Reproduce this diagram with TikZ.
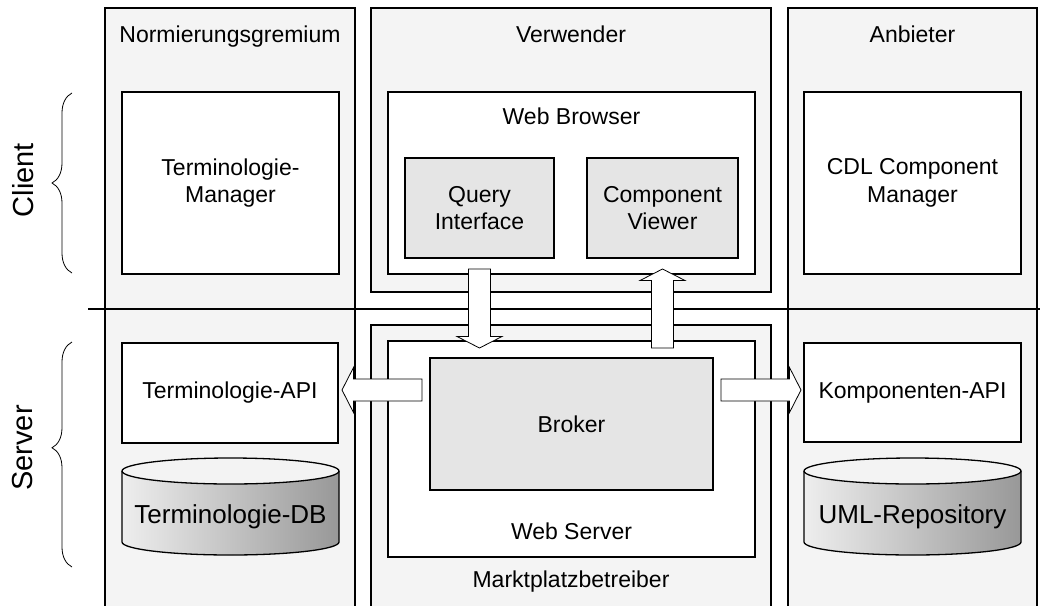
\documentclass[tikz,border=0pt]{standalone}
\usepackage{fontspec}
\setmainfont{Liberation Sans}
\usetikzlibrary{fit,calc,decorations.pathreplacing}

\definecolor{panelfill}{HTML}{F4F4F4}
\definecolor{compfill}{HTML}{E5E5E5}
\definecolor{dbtop}{HTML}{F3F3F3}
\definecolor{dbleft}{HTML}{EEEEEE}
\definecolor{dbright}{HTML}{989898}

% hollow block arrow from #1 to #2 (tip at #2)
\newcommand{\fatarrow}[2]{%
  \coordinate (fahead) at ($(#2)!11.5pt!(#1)$);
  \draw[blockarrow] ($(#1)!11pt!90:(#2)$) -- ($(fahead)!11pt!90:(#2)$)
    -- ($(fahead)!22.5pt!90:(#2)$) -- (#2) -- ($(fahead)!22.5pt!-90:(#2)$)
    -- ($(fahead)!11pt!-90:(#2)$) -- ($(#1)!11pt!-90:(#2)$) -- cycle;}

% database cylinder between x = #1 and x = #2
\newcommand{\dbshape}[2]{%
  \pgfmathsetmacro{\dbrx}{(#2-#1)/2}%
  \shade[left color=dbleft,right color=dbright] (#1,471) -- (#1,542)
    arc[start angle=180,end angle=360,x radius=\dbrx pt,y radius=13pt] -- (#2,471) -- cycle;
  \draw[dbline] (#1,471) -- (#1,542)
    arc[start angle=180,end angle=360,x radius=\dbrx pt,y radius=13pt] -- (#2,471);
  \draw[dbline,fill=dbtop] ({(#1+#2)/2},471) ellipse[x radius=\dbrx pt,y radius=13pt];}

\begin{document}
\begin{tikzpicture}[x=1pt,y=-1pt,
  every node/.style={inner sep=0pt,outer sep=0pt},
  panel/.style={draw=black,line width=1.3pt,fill=panelfill},
  wbox/.style={draw=black,line width=1.3pt,fill=white},
  gbox/.style={draw=black,line width=1.3pt,fill=compfill},
  lbl/.style={font=\fontsize{23}{27.5}\selectfont,align=center},
  dblbl/.style={font=\fontsize{26}{30}\selectfont},
  sidelbl/.style={font=\fontsize{29}{34}\selectfont,rotate=90},
  divider/.style={line width=1.2pt},
  blockarrow/.style={draw=black,line width=0.8pt,fill=white,line join=miter},
  dbline/.style={draw=black,line width=1.3pt},
  sidebrace/.style={decorate,line width=0.8pt}]

\useasboundingbox (0,0) rectangle (1040,605);
\clip (0,0) rectangle (1040,605);

% organisation panels
\node[panel,fit={(105,8) (355,620)}] (ng) {};
\node[panel,fit={(371,8) (771,292)}] (vw) {};
\node[panel,fit={(371,325) (771,620)}] (mp) {};
\node[panel,fit={(788,8) (1037,620)}] (an) {};

\node[lbl,anchor=base] (ngT) at (230,42) {Normierungsgremium};
\node[lbl,anchor=base] (vwT) at (571,42) {Verwender};
\node[lbl,anchor=base] (anT) at (912.5,42) {Anbieter};
\node[lbl,anchor=base] (mpT) at (571,587) {Marktplatzbetreiber};

% client / server divider
\coordinate (divL) at (88,309);
\coordinate (divR) at (1040,309);
\draw[divider] (divL) -- (divR);

% client side
\node[wbox,fit={(122,92) (339,274)}] (tmgr) {};
\node[lbl] (tmgrT) at (tmgr.center) {Terminologie-\\Manager};
\node[wbox,fit={(388,92) (755,274)}] (wb) {};
\node[lbl,anchor=base] (wbT) at (571.5,124) {Web Browser};
\node[gbox,fit={(405,158) (554,258)}] (qi) {};
\node[lbl] (qiT) at (qi.center) {Query\\Interface};
\node[gbox,fit={(587,158) (738,258)}] (cv) {};
\node[lbl] (cvT) at (cv.center) {Component\\Viewer};
\node[wbox,fit={(804,92) (1021,274)}] (cdl) {};
\node[lbl] (cdlT) at (cdl.center) {CDL Component\\Manager};

% server side
\node[wbox,fit={(122,343) (338,443)}] (tapi) {};
\node[lbl] (tapiT) at (tapi.center) {Terminologie-API};
\node[wbox,fit={(388,341) (755,557)}] (ws) {};
\node[lbl,anchor=base] (wsT) at (571.5,539) {Web Server};
\node[gbox,fit={(430,358) (713,490)}] (broker) {};
\node[lbl] (brokerT) at (broker.center) {Broker};
\node[wbox,fit={(804,343) (1021,442)}] (kapi) {};
\node[lbl] (kapiT) at (kapi.center) {Komponenten-API};

% databases
\dbshape{122}{339}
\node[dblbl,anchor=base] (tdb) at (230.5,523) {Terminologie-DB};
\dbshape{804}{1021}
\node[dblbl,anchor=base] (umlrep) at (912.5,523) {UML-Repository};

% data flow
\coordinate (qiOut) at ($(qi.south)+(0,11)$);
\coordinate (brIn) at (479.5,348);
\coordinate (cvIn) at ($(cv.south)+(0,11)$);
\coordinate (brOut) at (662.5,348);
\coordinate (brL) at (422,390);
\coordinate (tapiIn) at (342,390);
\coordinate (brR) at (721,390);
\coordinate (kapiIn) at (801,390);
\fatarrow{qiOut}{brIn}
\fatarrow{brOut}{cvIn}
\fatarrow{brL}{tapiIn}
\fatarrow{brR}{kapiIn}

% tier braces
\coordinate (cliB) at (72,273);
\coordinate (cliT) at (72,93);
\coordinate (srvB) at (72,567);
\coordinate (srvT) at (72,342);
\draw[sidebrace,decoration={brace,amplitude=20pt,aspect=0.5}] (cliB) -- (cliT);
\draw[sidebrace,decoration={brace,amplitude=20pt,aspect=0.53}] (srvB) -- (srvT);
\node[sidelbl] (cliT2) at (23,180) {Client};
\node[sidelbl] (srvT2) at (23,448) {Server};
\end{tikzpicture}
\end{document}
